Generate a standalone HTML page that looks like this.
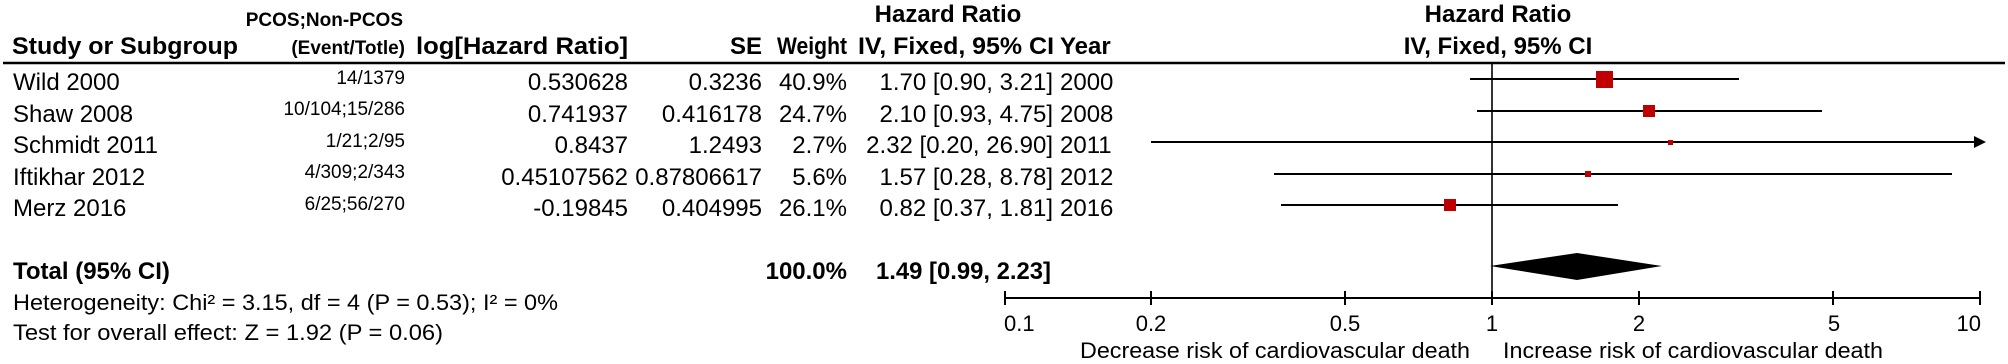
<!DOCTYPE html>
<html><head><meta charset="utf-8"><style>
html,body{margin:0;padding:0;background:#fff;}
svg{display:block;}
text{font-family:"Liberation Sans",Arial,sans-serif;fill:#000;}
.b{font-weight:bold;}
</style></head><body>
<svg width="2008" height="364" viewBox="0 0 2008 364" xmlns="http://www.w3.org/2000/svg">
<!-- headers -->
<text x="403" y="26" font-size="19" class="b" text-anchor="end">PCOS;Non-PCOS</text>
<text x="12" y="54" font-size="24" class="b" textLength="226" lengthAdjust="spacingAndGlyphs">Study or Subgroup</text>
<text x="405" y="54" font-size="19" class="b" text-anchor="end">(Event/Totle)</text>
<text x="416" y="54" font-size="24" class="b" textLength="212" lengthAdjust="spacingAndGlyphs">log[Hazard Ratio]</text>
<text x="762" y="54" font-size="24" class="b" text-anchor="end">SE</text>
<text x="777" y="54" font-size="24" class="b" textLength="70" lengthAdjust="spacingAndGlyphs">Weight</text>
<text x="948" y="22" font-size="24" class="b" text-anchor="middle">Hazard Ratio</text>
<text x="858" y="54" font-size="24" class="b" textLength="196" lengthAdjust="spacingAndGlyphs">IV, Fixed, 95% CI</text>
<text x="1060" y="54" font-size="24" class="b">Year</text>
<text x="1498" y="22" font-size="24" class="b" text-anchor="middle">Hazard Ratio</text>
<text x="1498" y="54" font-size="24" class="b" text-anchor="middle">IV, Fixed, 95% CI</text>
<line x1="3" y1="63" x2="2005" y2="63" stroke="#000" stroke-width="2.5"/>

<!-- rows -->
<g font-size="24">
<text x="13" y="90">Wild 2000</text>
<text x="13" y="122">Shaw 2008</text>
<text x="13" y="153">Schmidt 2011</text>
<text x="13" y="185">Iftikhar 2012</text>
<text x="13" y="216">Merz 2016</text>
</g>
<g font-size="19" text-anchor="end">
<text x="405" y="84">14/1379</text>
<text x="405" y="115">10/104;15/286</text>
<text x="405" y="147">1/21;2/95</text>
<text x="405" y="178">4/309;2/343</text>
<text x="405" y="210">6/25;56/270</text>
</g>
<g font-size="24" text-anchor="end">
<text x="628" y="90">0.530628</text>
<text x="628" y="122">0.741937</text>
<text x="628" y="153">0.8437</text>
<text x="628" y="185">0.45107562</text>
<text x="628" y="216">-0.19845</text>
<text x="762" y="90">0.3236</text>
<text x="762" y="122">0.416178</text>
<text x="762" y="153">1.2493</text>
<text x="762" y="185">0.87806617</text>
<text x="762" y="216">0.404995</text>
<text x="847" y="90">40.9%</text>
<text x="847" y="122">24.7%</text>
<text x="847" y="153">2.7%</text>
<text x="847" y="185">5.6%</text>
<text x="847" y="216">26.1%</text>
<text x="1053" y="90">1.70 [0.90, 3.21]</text>
<text x="1053" y="122">2.10 [0.93, 4.75]</text>
<text x="1053" y="153">2.32 [0.20, 26.90]</text>
<text x="1053" y="185">1.57 [0.28, 8.78]</text>
<text x="1053" y="216">0.82 [0.37, 1.81]</text>
</g>
<g font-size="24">
<text x="1060" y="90">2000</text>
<text x="1060" y="122">2008</text>
<text x="1060" y="153">2011</text>
<text x="1060" y="185">2012</text>
<text x="1060" y="216">2016</text>
</g>

<!-- total -->
<text x="13" y="279" font-size="24" class="b">Total (95% CI)</text>
<text x="847" y="279" font-size="24" class="b" text-anchor="end">100.0%</text>
<text x="876" y="279" font-size="24" class="b" textLength="175" lengthAdjust="spacingAndGlyphs">1.49 [0.99, 2.23]</text>
<text x="13" y="310" font-size="22" textLength="545" lengthAdjust="spacingAndGlyphs">Heterogeneity: Chi² = 3.15, df = 4 (P = 0.53); I² = 0%</text>
<text x="13" y="340" font-size="22" textLength="430" lengthAdjust="spacingAndGlyphs">Test for overall effect: Z = 1.92 (P = 0.06)</text>

<!-- plot -->
<line x1="1492" y1="63" x2="1492" y2="298" stroke="#000" stroke-width="1.6"/>
<g stroke="#000" stroke-width="2">
<line x1="1470" y1="79" x2="1739" y2="79"/>
<line x1="1477" y1="111" x2="1822" y2="111"/>
<line x1="1151" y1="142" x2="1975" y2="142"/>
<line x1="1274" y1="174" x2="1952" y2="174"/>
<line x1="1281" y1="205" x2="1618" y2="205"/>
</g>
<polygon points="1974,136 1986,142 1974,148" fill="#000"/>
<g fill="#c00000">
<rect x="1596" y="71" width="17" height="17"/>
<rect x="1643" y="105" width="12" height="12"/>
<rect x="1668" y="140" width="5" height="5"/>
<rect x="1585" y="171" width="6" height="6"/>
<rect x="1444" y="199" width="12" height="12"/>
</g>
<polygon points="1490,266 1577,253 1662,266 1577,280" fill="#000"/>

<!-- axis -->
<line x1="1004" y1="298" x2="1981" y2="298" stroke="#000" stroke-width="2"/>
<g stroke="#000" stroke-width="2">
<line x1="1005" y1="291" x2="1005" y2="305"/>
<line x1="1151" y1="291" x2="1151" y2="305"/>
<line x1="1345" y1="291" x2="1345" y2="305"/>
<line x1="1492" y1="291" x2="1492" y2="305"/>
<line x1="1639" y1="291" x2="1639" y2="305"/>
<line x1="1833" y1="291" x2="1833" y2="305"/>
<line x1="1980" y1="291" x2="1980" y2="305"/>
</g>
<g font-size="22">
<text x="1004" y="331">0.1</text>
<text x="1151" y="331" text-anchor="middle">0.2</text>
<text x="1345" y="331" text-anchor="middle">0.5</text>
<text x="1492" y="331" text-anchor="middle">1</text>
<text x="1639" y="331" text-anchor="middle">2</text>
<text x="1834" y="331" text-anchor="middle">5</text>
<text x="1981" y="331" text-anchor="end">10</text>
</g>
<text x="1080" y="358" font-size="22" textLength="390" lengthAdjust="spacingAndGlyphs">Decrease risk of cardiovascular death</text>
<text x="1503" y="358" font-size="22" textLength="380" lengthAdjust="spacingAndGlyphs">Increase risk of cardiovascular death</text>
</svg>
</body></html>
